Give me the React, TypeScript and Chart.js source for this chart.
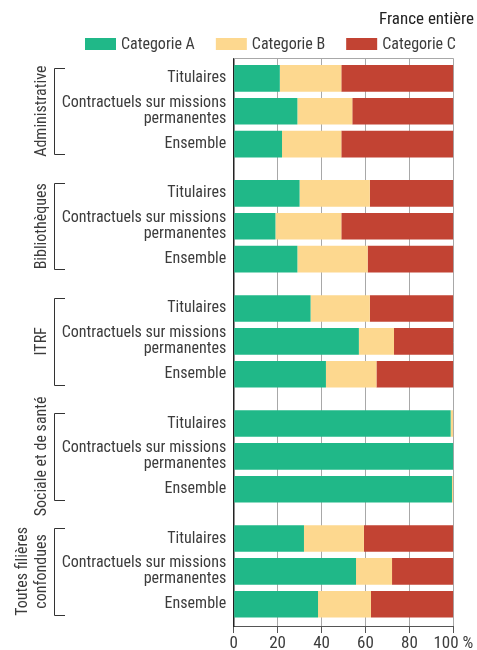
import React, { useEffect, useRef } from "react";
import { Chart, registerables } from "chart.js";

Chart.register(...registerables);

// ---- data ----
const groups: (string | string[])[] = [
  "Administrative",
  "Bibliothèques",
  "ITRF",
  "Sociale et de santé",
  ["Toutes filières", "confondues"],
];
const statuts: (string | string[])[] = [
  "Titulaires",
  ["Contractuels sur missions", "permanentes"],
  "Ensemble",
];
const seriesNames = ["Categorie A", "Categorie B", "Categorie C"];
const catA = [21, 29, 22, 30, 19, 29, 35, 57, 42, 98.8, 100, 99.4, 32, 55.7, 38.4];
const catB = [28, 25, 27, 32, 30, 32, 27, 16, 23, 1.2, 0, 0.6, 27.3, 16.4, 24.1];
const catC = [51, 46, 51, 38, 51, 39, 38, 27, 35, 0, 0, 0, 40.7, 27.9, 37.5];
const xTicks = [0, 20, 40, 60, 80, 100];
const subtitle = "France entière";

// ---- styling ----
const COLORS = ["#20b888", "#fdd88f", "#c24333"];
const FONT = '"Liberation Sans Narrow", "Roboto Condensed", "DejaVu Sans Condensed", sans-serif';
const TEXT = "#3c3c3c";
const GROUP_GAP = 0.5;

const positions: number[] = [];
const rowLabels: (string | string[])[] = [];
groups.forEach((_, g) => {
  statuts.forEach((s, i) => {
    positions.push(g * (statuts.length + GROUP_GAP) + i);
    rowLabels.push(s);
  });
});

const decorPlugin = {
  id: "decor",
  afterDraw(chart: any) {
    const { ctx, chartArea, scales } = chart;
    const y = scales.y;
    ctx.save();
    // top border line
    ctx.strokeStyle = "#a8a8a8";
    ctx.lineWidth = 1;
    ctx.beginPath();
    ctx.moveTo(chartArea.left, Math.round(chartArea.top) + 0.5);
    ctx.lineTo(chartArea.right, Math.round(chartArea.top) + 0.5);
    ctx.stroke();

    // subtitle
    ctx.fillStyle = "#222";
    ctx.font = `17px ${FONT}`;
    ctx.textAlign = "right";
    ctx.textBaseline = "alphabetic";
    ctx.fillText(subtitle, 474, 24);

    // legend
    ctx.font = `16px ${FONT}`;
    ctx.textAlign = "left";
    ctx.textBaseline = "middle";
    let lx = 85;
    seriesNames.forEach((name, i) => {
      ctx.fillStyle = COLORS[i];
      ctx.fillRect(lx, 38, 31, 12);
      ctx.fillStyle = TEXT;
      ctx.fillText(name, lx + 36, 44.5);
      lx += 36 + ctx.measureText(name).width + 21;
    });

    // group brackets and labels
    const n = statuts.length;
    const half = Math.abs(y.getPixelForValue(1) - y.getPixelForValue(0)) * 0.81 / 2;
    groups.forEach((g, gi) => {
      const first = positions[gi * n];
      const last = positions[gi * n + n - 1];
      const top = y.getPixelForValue(first) - half + 3;
      const bot = y.getPixelForValue(last) + half - 3;
      ctx.strokeStyle = "#333";
      ctx.lineWidth = 1;
      ctx.beginPath();
      ctx.moveTo(65, Math.round(top) + 0.5);
      ctx.lineTo(54.5, Math.round(top) + 0.5);
      ctx.lineTo(54.5, Math.round(bot) + 0.5);
      ctx.lineTo(65, Math.round(bot) + 0.5);
      ctx.stroke();

      const lines = Array.isArray(g) ? g : [g];
      const cy = (top + bot) / 2;
      ctx.save();
      ctx.translate(0, cy);
      ctx.rotate(-Math.PI / 2);
      ctx.fillStyle = TEXT;
      ctx.font = `16px ${FONT}`;
      ctx.textAlign = "center";
      ctx.textBaseline = "alphabetic";
      lines.forEach((line, j) => {
        const bx = 45.5 - (lines.length - 1 - j) * 19;
        ctx.fillText(line, 0, bx);
      });
      ctx.restore();
    });
    ctx.restore();
  },
};

export default function App() {
  const ref = useRef<HTMLCanvasElement>(null);
  useEffect(() => {
    if (!ref.current) return;
    const mk = (vals: number[]) => positions.map((p, i) => ({ x: vals[i], y: p }));
    const chart = new Chart(ref.current, {
      type: "bar",
      data: {
        datasets: [catA, catB, catC].map((vals, i) => ({
          label: seriesNames[i],
          data: mk(vals),
          backgroundColor: COLORS[i],
          borderWidth: 0,
          barPercentage: 0.81,
          categoryPercentage: 1,
        })),
      },
      options: {
        indexAxis: "y",
        animation: false,
        responsive: false,
        maintainAspectRatio: false,
        layout: { padding: { top: 58.3, right: 23.7, bottom: 0, left: 0 } },
        plugins: { legend: { display: false }, tooltip: { enabled: false }, title: { display: false } },
        scales: {
          x: {
            type: "linear",
            stacked: true,
            min: 0,
            max: 100,
            afterBuildTicks: (s: any) => {
              s.ticks = xTicks.map((v) => ({ value: v }));
            },
            afterFit: (s: any) => {
              s.height = 24;
              s.paddingLeft = 0;
              s.paddingRight = 0;
            },
            grid: { color: "#a8a8a8", lineWidth: 1, drawTicks: true, tickLength: 7, tickColor: "#555" },
            border: { display: true, color: "#555", width: 1 },
            ticks: {
              padding: 1,
              maxRotation: 0,
              minRotation: 0,
              autoSkip: false,
              color: TEXT,
              font: { family: FONT, size: 17 },
              callback: (v: any) => (v === 100 ? "100 %" : String(v)),
            },
          },
          y: {
            type: "linear",
            stacked: true,
            reverse: true,
            offset: false,
            min: -0.61,
            max: positions[positions.length - 1] + 0.66,
            afterBuildTicks: (s: any) => {
              s.ticks = positions.map((v) => ({ value: v }));
            },
            afterFit: (s: any) => {
              s.width = 233.7;
              s.paddingTop = 0;
              s.paddingBottom = 0;
            },
            grid: { display: false, drawTicks: false, offset: false },
            border: { display: true, color: "#222", width: 1.5 },
            ticks: {
              autoSkip: false,
              padding: 7.5,
              color: TEXT,
              font: { family: FONT, size: 16, lineHeight: "16px" },
              callback: (v: any, i: number) => rowLabels[i],
            },
          },
        },
      },
      plugins: [decorPlugin],
    });
    return () => chart.destroy();
  }, []);
  return (
    <div style={{ position: "absolute", left: 0, top: 0, width: 477, height: 650, background: "#fff" }}>
      <canvas ref={ref} width={477} height={650} style={{ width: 477, height: 650 }} />
    </div>
  );
}
